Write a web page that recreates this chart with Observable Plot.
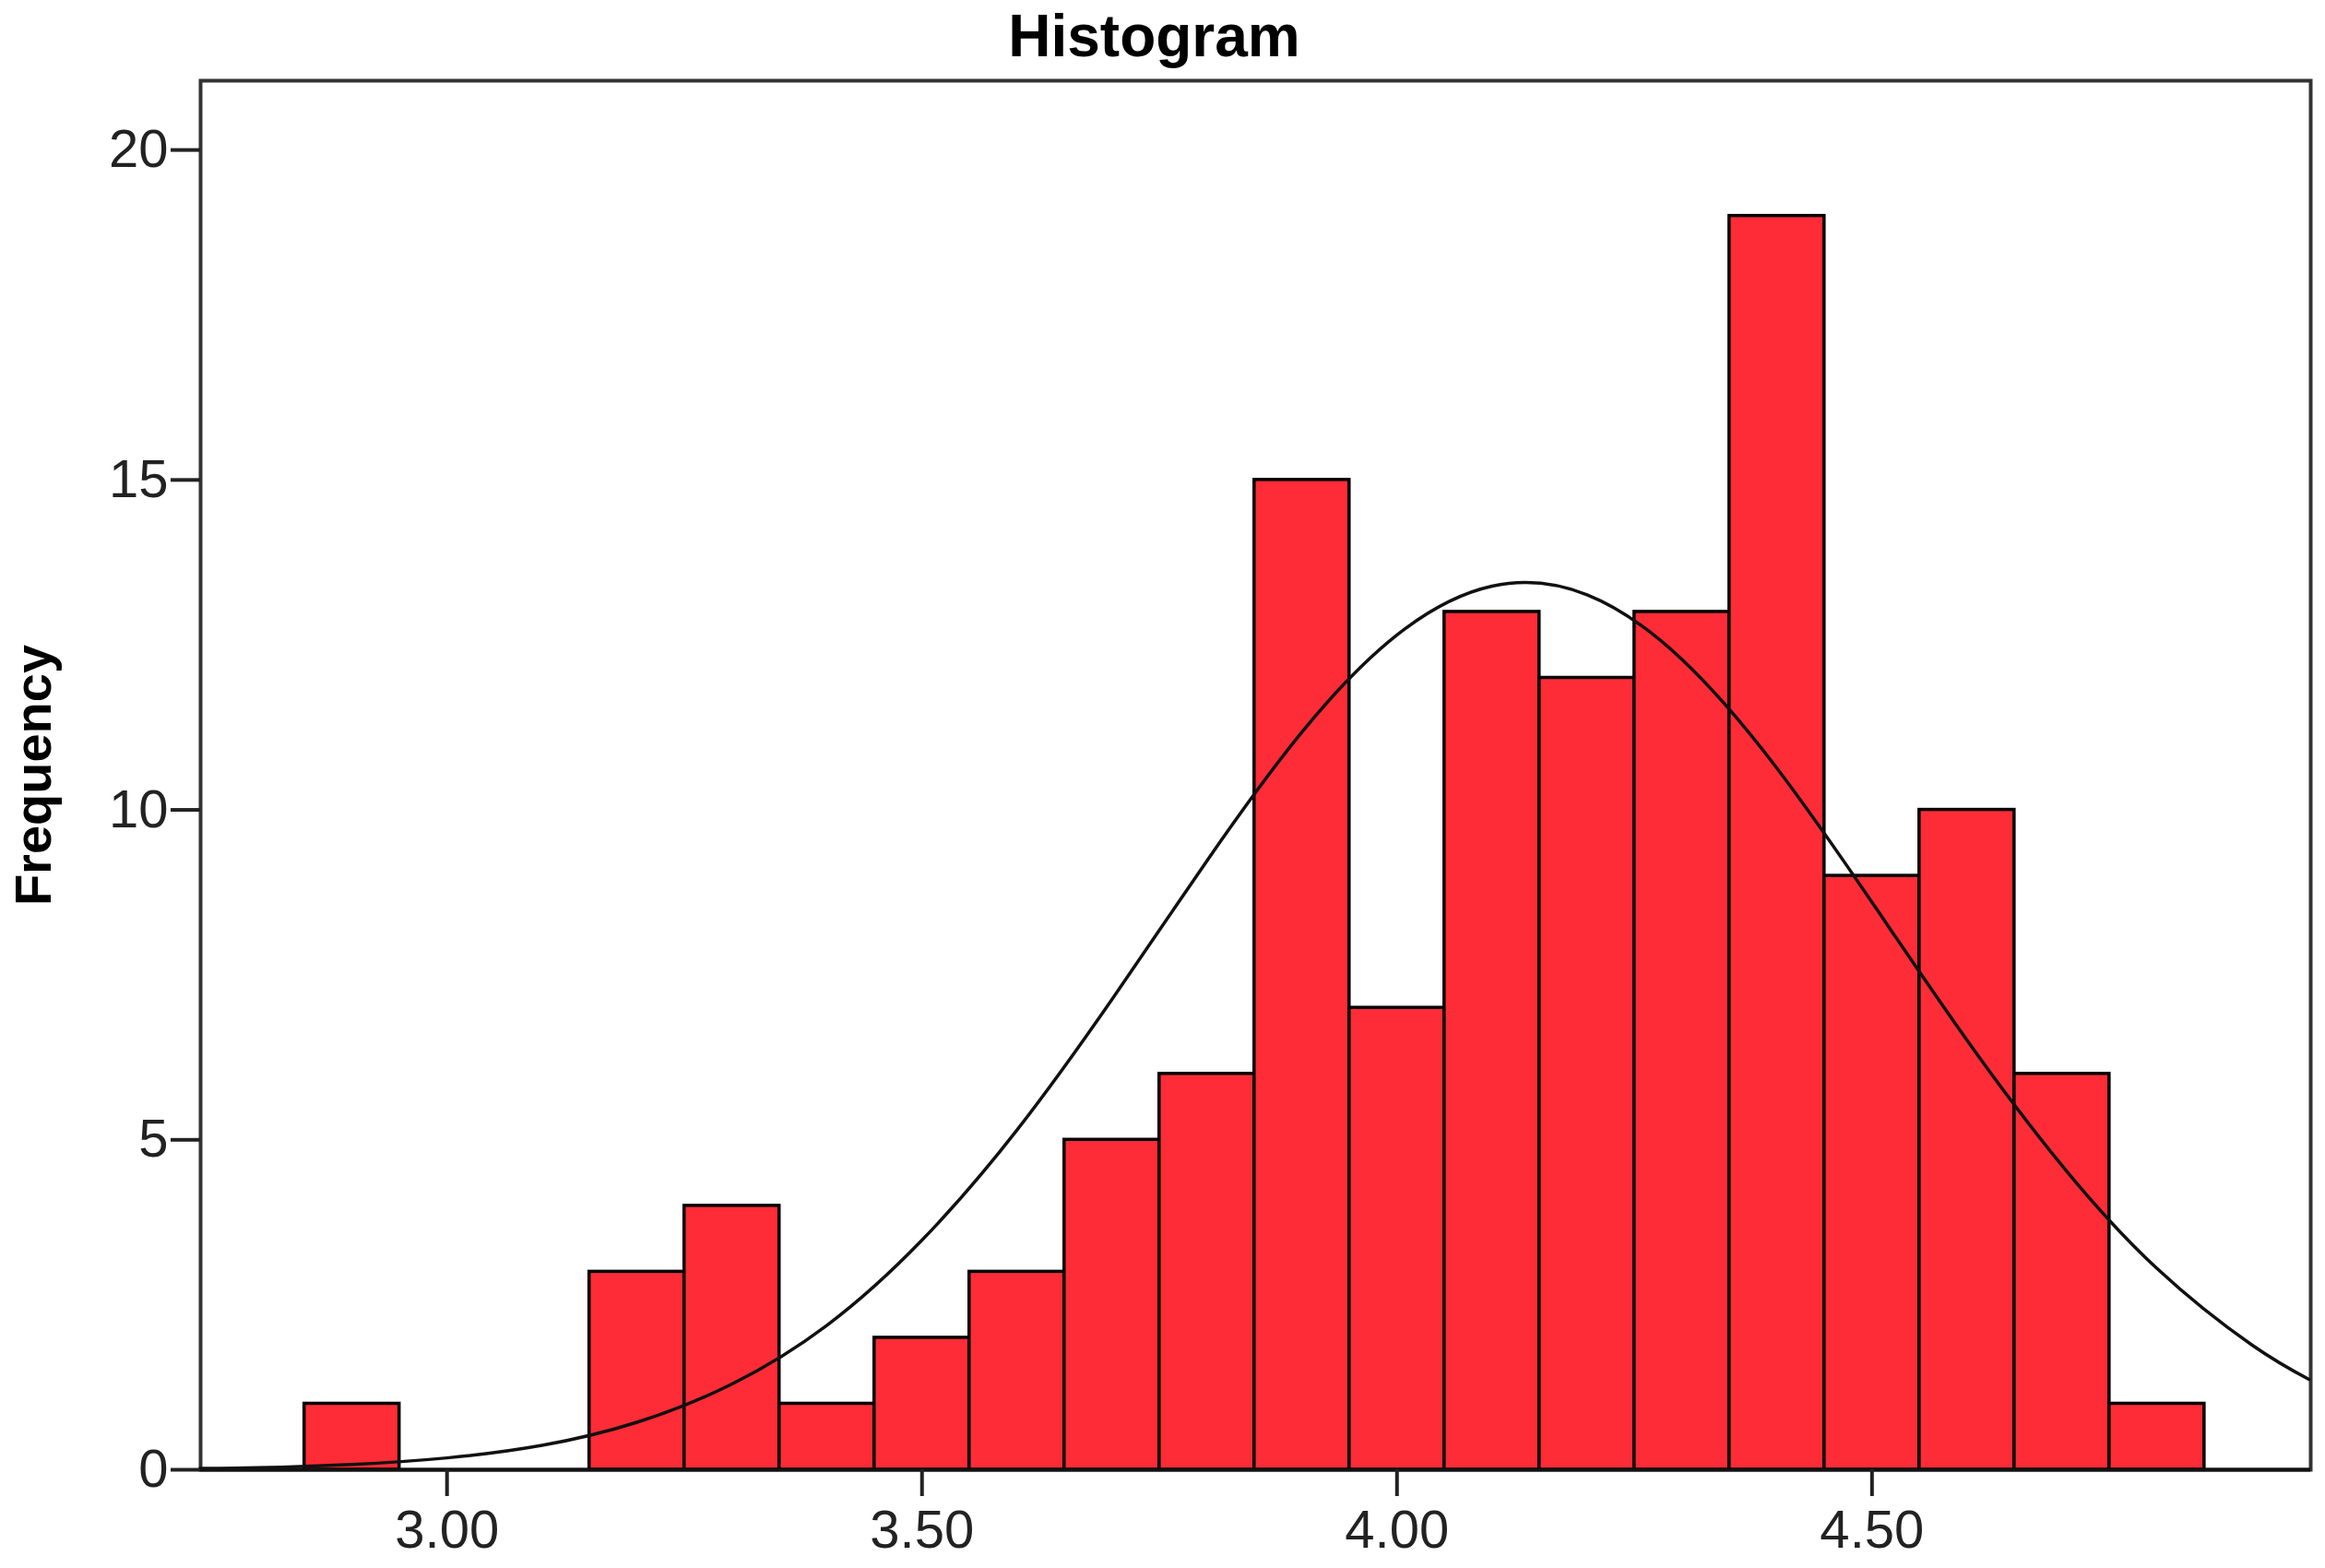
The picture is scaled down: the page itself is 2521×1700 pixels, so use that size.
<!DOCTYPE html>
<html>
<head>
<meta charset="utf-8">
<script src="https://cdn.jsdelivr.net/npm/d3@7"></script>
<script src="https://cdn.jsdelivr.net/npm/@observablehq/plot@0.6"></script>
<style>
  html, body { margin: 0; padding: 0; background: #ffffff; }
</style>
</head>
<body>
<div id="chart"></div>
<script>
// ---- data ----
const chartTitle = "Histogram";
const yAxisLabel = "Frequency";

const binEdges = [2.85, 2.95, 3.05, 3.15, 3.25, 3.35, 3.45, 3.55, 3.65, 3.75, 3.85,
                  3.95, 4.05, 4.15, 4.25, 4.35, 4.45, 4.55, 4.65, 4.75, 4.85];
const counts   = [1, 0, 0, 3, 4, 1, 2, 3, 5, 6, 15, 7, 13, 12, 13, 19, 9, 10, 6, 1];

// normal curve, points
const curveX = [2.74, 2.80, 2.90, 3.00, 3.10, 3.20, 3.30, 3.40, 3.50, 3.60, 3.70, 3.80, 3.90,
                4.00, 4.10, 4.20, 4.30, 4.40, 4.50, 4.60, 4.70, 4.80, 4.90, 4.96];
const curveY = [0.02, 0.03, 0.08, 0.18, 0.37, 0.72, 1.30, 2.19, 3.48, 5.15, 7.13, 9.23, 11.18,
                12.65, 13.39, 13.26, 12.28, 10.63, 8.60, 6.51, 4.61, 3.05, 1.89, 1.37];

const xTicks = [3.00, 3.50, 4.00, 4.50];
const yTicks = [0, 5, 10, 15, 20];
const xDomain = [2.7406, 4.9618];
const yDomain = [0, 21.05];

// ---- tables built from the arrays ----
const bars = counts.map((c, i) => ({x1: binEdges[i], x2: binEdges[i + 1], count: c}))
                   .filter(d => d.count > 0);
const curve = curveX.map((x, i) => ({x, y: curveY[i]}));

const W = 2521, H = 1700;
const mL = 217, mR = 16, mT = 87, mB = 107;

const chart = Plot.plot({
  width: W,
  height: H,
  marginLeft: mL,
  marginRight: mR,
  marginTop: mT,
  marginBottom: mB,
  style: {
    fontFamily: "'Liberation Sans', Arial, sans-serif",
    fontSize: "58px",
    color: "#222",
    background: "#ffffff"
  },
  x: {domain: xDomain},
  y: {domain: yDomain},
  marks: [
    Plot.frame({stroke: "#333", strokeWidth: 4}),
    Plot.rectY(bars, {
      x1: "x1", x2: "x2", y: "count",
      fill: "#fe2c36", stroke: "#000", strokeWidth: 3.5, inset: 0
    }),
    Plot.line(curve, {x: "x", y: "y", curve: "natural", stroke: "#111", strokeWidth: 3.5}),
    Plot.ruleY([0], {stroke: "#111", strokeWidth: 4}),
    Plot.axisX({
      ticks: xTicks, tickFormat: d3.format(".2f"), tickSize: 29, tickPadding: 14,
      strokeWidth: 4, label: null
    }),
    Plot.axisY({
      ticks: yTicks, tickFormat: d3.format("d"), tickSize: 32, tickPadding: 3,
      strokeWidth: 4, label: null
    }),
    Plot.text([yAxisLabel], {
      frameAnchor: "left", rotate: -90, lineAnchor: "top", textAnchor: "middle",
      dx: -202, fontWeight: "bold", fontSize: 56, fill: "#000"
    }),
    Plot.text([chartTitle], {
      frameAnchor: "top", lineAnchor: "bottom", textAnchor: "middle",
      dx: -110, dy: -27, fontWeight: "bold", fontSize: 64, fill: "#000"
    })
  ]
});

document.getElementById("chart").appendChild(chart);
</script>
</body>
</html>
